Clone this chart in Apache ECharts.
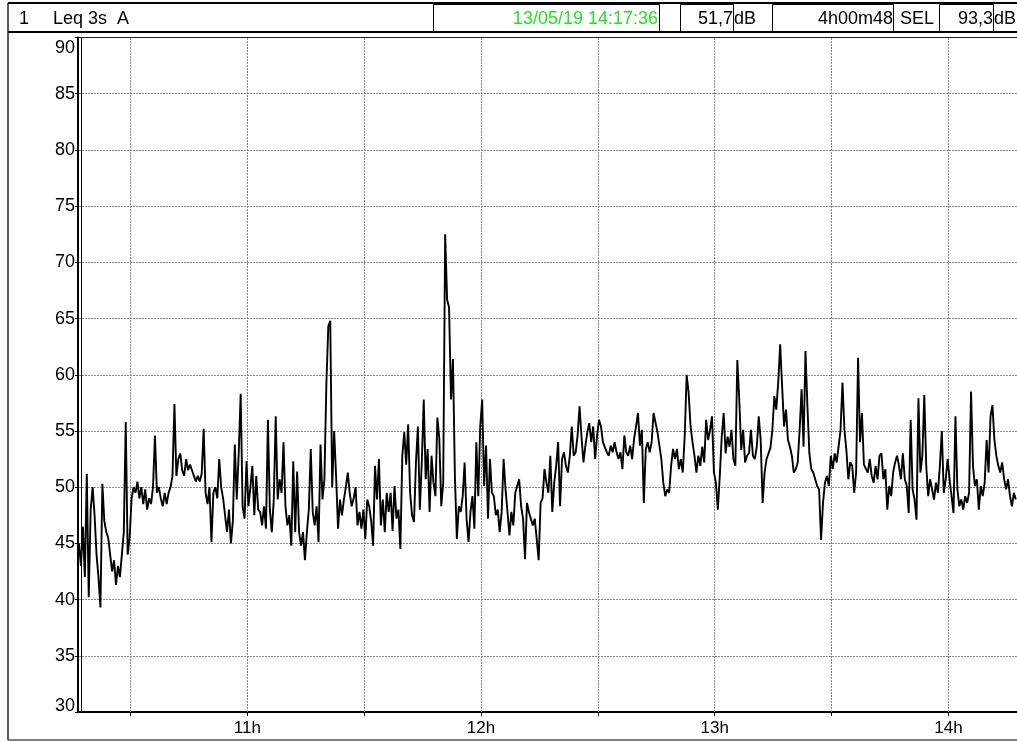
<!DOCTYPE html>
<html>
<head>
<meta charset="utf-8">
<script src="https://cdn.jsdelivr.net/npm/echarts@6/dist/echarts.min.js"></script>
<style>
  html, body { margin: 0; padding: 0; background: #ffffff; }
  #chart { width: 1017px; height: 741px; }
</style>
</head>
<body>
<div id="chart"></div>
<script>
// Header fields of the level recorder display
const channelNo = '1';
const measureName = 'Leq 3s  A';
const endStamp = '13/05/19 14:17:36';
const leqTotal = '51,7';
const durationText = '4h00m48';
const selText = 'SEL';
const selTotal = '93,3';
const unitText = 'dB';

// Time base in minutes after midnight: start of record and sampling step
const startMinute = 10 * 60 + 16.8;
const durationMinutes = 240 + 0.8;
const stepMinutes = 0.5;

// Half-hour ticks and the hour marks that carry a label
const halfHourTicks = [630, 660, 690, 720, 750, 780, 810, 840];
const hourTicks = [660, 720, 780, 840];

// Sound level, dB(A), one value every 30 s from the start
const levels = [
  45, 43, 46.5, 42, 51.2, 40.2, 48, 50, 47.5, 44, 42, 39.3, 50.3, 47, 46, 45.5, 44, 42.5, 43.5, 41.3,
  43, 42, 44, 46, 55.8, 44, 45.5, 49,
  50, 49.5, 50.5, 49, 50, 48.5, 49.8, 48, 49, 48.5,
  50, 54.6, 49.5, 50, 49, 48.3, 49.5, 48.5, 49.5, 50,
  51, 57.4, 51, 52.5, 53, 51.5, 51, 52.5, 51.5, 52,
  51.5, 51, 50.5, 51, 50.5, 51.2, 55.2, 49.5, 48.5, 50,
  45.1, 49.5, 50, 49, 52.5, 50, 49, 47.5, 46, 48,
  45, 47,
  53.8, 48.9, 53, 58.3, 48.3, 47.2, 52.3, 48.3, 50, 51.9,
  47.5, 51, 48, 47.8, 46.6, 48.3, 46.3, 56, 48, 46,
  48.9, 56.3, 48.9, 50.7, 49.5, 54, 48.3, 46.6, 47.5, 44.8,
  52.3, 46, 51.4, 46, 44.8, 46, 43.5, 46, 48, 53.4,
  47.8, 46.6, 48.3, 45.1, 53.8, 48.9, 50.7, 59.1, 64.3, 64.8,
  50, 55, 51, 46.3, 48.9, 47.5, 48.9, 50, 51.3, 49.5,
  48.3, 49, 50, 46.6, 47.8, 46.3, 48, 45.4, 48.9, 48.3,
  47, 44.8, 51.9, 48.9, 52.5, 46.6, 48.9, 46, 49.5,
  47.8, 49.5, 46.1, 50.1, 47.2, 48, 44.5, 52.8, 54.9, 52,
  55.6, 49.5, 47.5, 46.9, 52.2, 55.4, 48, 52.2, 57.8, 50.7,
  53.4, 47.8, 52.8, 50.4, 49.2, 56.2, 54.3, 48.3, 50.4, 72.5,
  66.7, 66, 57.8, 61.4, 51, 45.4, 48.3, 47.8, 49.2, 52.2,
  47.2, 45.1, 47.8, 49.2, 46.3, 54, 49.2, 55.4, 57.8, 50.1,
  53.7, 47.2, 52.5, 49.5, 49.2, 47.5, 48, 46, 47.8, 52.5,
  49.8, 47.8, 45.7, 47.8, 46.6, 49.5, 49.5, 50.7, 48.3, 47.2,
  43.6, 48.6, 47.8, 47.2, 46.6, 47.2, 45.4, 43.5, 48.6,
  49, 51.6, 50.4, 49.5, 52.8, 47.8, 50.4, 51.9, 54, 48.3,
  52.5, 53.1, 51.9, 51.3, 52.8, 55.4, 52.8, 53.1, 54.6, 57.2,
  54.5, 52.2, 53.7, 54.9, 55.7, 54, 55.4, 52.5, 54.6, 56,
  55.4, 54, 54, 53.1, 52.8, 53.7, 53.1, 54, 53.1, 52.5,
  53.1, 51.6, 54.6, 53.1, 52.8, 53.7, 52.5, 54.3, 55.4, 56.6,
  53.7, 55.1, 48.6, 53.4, 54, 53.1, 54, 56.6, 56.6, 54.9,
  53.7, 52.5, 50.4, 49.2, 49.8, 49.5, 51.9, 53.4, 52.5, 53.4,
  51.6, 52.5, 51.3, 54.6, 60, 58.4, 55.4, 54, 52.8, 51.3,
  52.8, 51.9, 53.6, 52.2, 56, 54.2, 55.1, 56.3, 51.3, 50.4,
  48, 51, 54.5, 56.6, 53, 54.5, 53.6, 55.1, 52.5, 51.9,
  61.3, 57.8, 53.3, 55.1, 52.2, 52.8, 53, 55.1, 52.8, 52.5,
  53.6, 56.3, 54.2, 48.6, 51.3, 52.5, 53, 53.5, 55.1, 58.1,
  56.9, 59.3, 62.7, 59, 55.4, 56.9, 54.2, 53.6, 52.8, 51.3,
  51.6, 52.2, 55.1, 58.7, 53.6, 62.1, 57.2, 53, 51.6, 51.3,
  50.7, 50.1, 49.8, 45.3, 48.6, 50.4, 51, 50.1, 52.8, 51.6,
  53, 52.2, 53.6, 55.1, 59.3, 55.1, 53.3, 50.7, 52.2,
  51.9, 49.5, 51.3, 61.5, 54, 56.6, 52, 51.9, 51.3, 52.5,
  51, 50.4, 51.9, 50.7, 52.8, 53, 50.7, 51.6, 48, 50.1,
  49.2, 51.3, 52.2, 52.8, 51.9, 50.7, 53, 50.7, 50.1, 47.7,
  56, 49.8, 48.9, 47.1, 57.9, 51.3, 52.8, 58.2, 51.9, 49.2,
  50.7, 49.8, 48.9, 50.4, 49.5, 51.9, 55, 49.5, 50.7, 52.5,
  50.7, 49.2, 47.7, 56.3, 49.8, 48.3, 48.9, 48, 49.2, 48.6,
  49.5, 58.5, 51.9, 50.1, 50.7, 48, 50.1, 49.2, 50.4, 54.2,
  51.3, 56.3, 57.3, 54.2, 52.8, 51.9, 51.3, 52.2, 50.7, 49.8,
  50.7, 49.2, 48.3, 49.5, 48.9
];

// Level axis range and step
const levelMin = 30;
const levelMax = 90;
const levelStep = 5;

const seriesData = levels.map((v, i) => [startMinute + i * stepMinutes, v]);

const FONT = '"Liberation Sans", Arial, sans-serif';
const GRID_COLOR = '#8a8a8a';
const chart = echarts.init(document.getElementById('chart'), null, { renderer: 'canvas' });

chart.setOption({
  animation: false,
  backgroundColor: '#ffffff',
  grid: { left: 79, right: -5, top: 37.5, bottom: 29, containLabel: false },
  xAxis: [
    {
      type: 'value',
      min: startMinute,
      max: startMinute + durationMinutes,
      axisLine: { show: true, lineStyle: { color: '#000', width: 2 } },
      axisTick: { show: true, length: 4, customValues: halfHourTicks, lineStyle: { color: '#000', width: 1 } },
      axisLabel: {
        show: true,
        customValues: hourTicks,
        margin: 8,
        fontFamily: FONT,
        fontSize: 17,
        color: '#000',
        formatter: function (v) { return Math.round(v / 60) + 'h'; }
      },
      splitLine: { show: false }
    },
    {
      type: 'value',
      position: 'top',
      min: startMinute,
      max: startMinute + durationMinutes,
      axisLine: { show: true, lineStyle: { color: '#222', width: 1 } },
      axisTick: { show: false },
      axisLabel: { show: false },
      splitLine: { show: false }
    }
  ],
  yAxis: [
    {
      type: 'value',
      min: levelMin,
      max: levelMax,
      interval: levelStep,
      offset: 1,
      axisLine: { show: true, lineStyle: { color: '#000', width: 2 } },
      axisTick: { show: true, length: 3, lineStyle: { color: '#000', width: 1 } },
      axisLabel: {
        show: true,
        margin: 3,
        fontFamily: FONT,
        fontSize: 18,
        color: '#000',
        formatter: function (v) {
          if (v === levelMax) return '{top|' + v + '}';
          if (v === levelMin) return '{bot|' + v + '}';
          return String(v);
        },
        rich: {
          top: { fontFamily: FONT, fontSize: 18, color: '#000', padding: [22, 0, 0, 0] },
          bot: { fontFamily: FONT, fontSize: 18, color: '#000', padding: [0, 0, 12, 0] }
        }
      },
      splitLine: { show: true, lineStyle: { color: GRID_COLOR, width: 1, type: [2, 1] } }
    },
    {
      type: 'value',
      min: levelMin,
      max: levelMax,
      interval: levelStep,
      position: 'left',
      offset: -2,
      axisLine: { show: true, lineStyle: { color: '#000', width: 1 } },
      axisTick: { show: false },
      axisLabel: { show: false },
      splitLine: { show: false }
    }
  ],
  series: [
    {
      // half-hour vertical grid, drawn under the trace
      type: 'line',
      data: [],
      xAxisIndex: 0,
      yAxisIndex: 0,
      silent: true,
      z: 1,
      markLine: {
        silent: true,
        z: 1,
        animation: false,
        symbol: ['none', 'none'],
        label: { show: false },
        lineStyle: { color: GRID_COLOR, width: 1, type: [2, 1] },
        emphasis: { disabled: true },
        data: halfHourTicks.map(m => ({ xAxis: m }))
      }
    },
    {
      type: 'line',
      data: seriesData,
      xAxisIndex: 0,
      yAxisIndex: 0,
      z: 3,
      showSymbol: false,
      symbol: 'none',
      smooth: false,
      lineStyle: { color: '#000', width: 1.9 },
      clip: true
    }
  ],
  graphic: [
    // outer frame
    { type: 'line', shape: { x1: 8, y1: 3, x2: 1017, y2: 3 }, style: { stroke: '#000', lineWidth: 2 } },
    { type: 'line', shape: { x1: 8, y1: 3, x2: 8, y2: 740 }, style: { stroke: '#222', lineWidth: 1.5 } },
    { type: 'line', shape: { x1: 8, y1: 740, x2: 1017, y2: 740 }, style: { stroke: '#555', lineWidth: 1.5 } },
    { type: 'line', shape: { x1: 8, y1: 32, x2: 1017, y2: 32 }, style: { stroke: '#000', lineWidth: 2 } },
    // header cells
    { type: 'rect', shape: { x: 433.5, y: 4.5, width: 226, height: 27 }, style: { fill: 'none', stroke: '#000', lineWidth: 1 } },
    { type: 'rect', shape: { x: 680.5, y: 4.5, width: 53, height: 27 }, style: { fill: 'none', stroke: '#000', lineWidth: 1 } },
    { type: 'rect', shape: { x: 772.5, y: 4.5, width: 121, height: 27 }, style: { fill: 'none', stroke: '#000', lineWidth: 1 } },
    { type: 'rect', shape: { x: 939.5, y: 4.5, width: 54, height: 27 }, style: { fill: 'none', stroke: '#000', lineWidth: 1 } },
    // header texts
    { type: 'text', x: 19, y: 19, style: { text: channelNo, fontFamily: FONT, fontSize: 18, fill: '#000', verticalAlign: 'middle' } },
    { type: 'text', x: 53, y: 19, style: { text: measureName, fontFamily: FONT, fontSize: 18, fill: '#000', verticalAlign: 'middle' } },
    { type: 'text', x: 658, y: 19, style: { text: endStamp, fontFamily: FONT, fontSize: 18, fill: '#22e322', align: 'right', verticalAlign: 'middle' } },
    { type: 'text', x: 733, y: 19, style: { text: leqTotal, fontFamily: FONT, fontSize: 18, fill: '#000', align: 'right', verticalAlign: 'middle' } },
    { type: 'text', x: 734, y: 19, style: { text: unitText, fontFamily: FONT, fontSize: 18, fill: '#000', align: 'left', verticalAlign: 'middle' } },
    { type: 'text', x: 893, y: 19, style: { text: durationText, fontFamily: FONT, fontSize: 18, fill: '#000', align: 'right', verticalAlign: 'middle' } },
    { type: 'text', x: 900, y: 19, style: { text: selText, fontFamily: FONT, fontSize: 18, fill: '#000', align: 'left', verticalAlign: 'middle' } },
    { type: 'text', x: 993, y: 19, style: { text: selTotal, fontFamily: FONT, fontSize: 18, fill: '#000', align: 'right', verticalAlign: 'middle' } },
    { type: 'text', x: 994, y: 19, style: { text: unitText, fontFamily: FONT, fontSize: 18, fill: '#000', align: 'left', verticalAlign: 'middle' } }
  ]
});
</script>
</body>
</html>
